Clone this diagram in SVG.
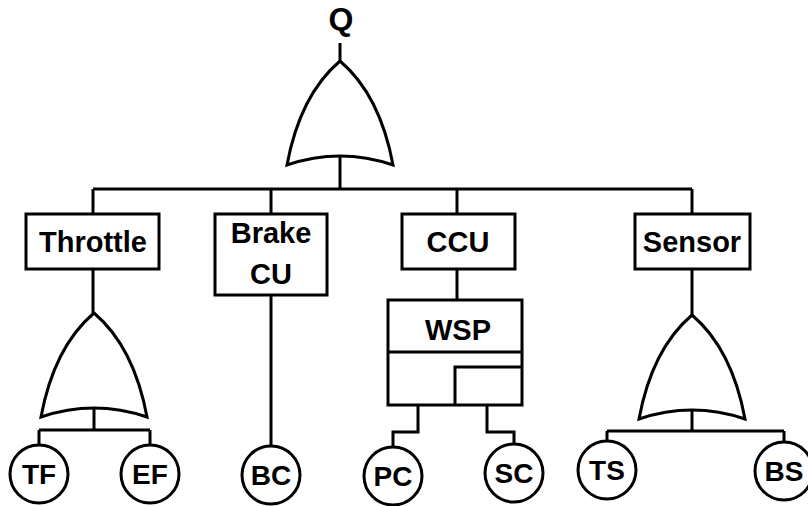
<svg xmlns="http://www.w3.org/2000/svg" xmlns:xlink="http://www.w3.org/1999/xlink" width="808" height="506" viewBox="0 0 808 506">
<style>
.ln{fill:none;stroke:#000;stroke-width:3;stroke-linejoin:miter}
.bx{fill:#fff;stroke:#000;stroke-width:3}
.t{font-family:"Liberation Sans",Arial,sans-serif;font-weight:bold;font-size:29px;fill:#000;text-anchor:middle}
.c{font-family:"Liberation Sans",Arial,sans-serif;font-weight:bold;font-size:28px;fill:#000;text-anchor:middle}
</style>
<defs>
<path id="orgate" d="M0,0 Q-40,34 -53,104 Q0,86 53,104 Q40,34 0,0 Z" fill="#fff" stroke="#000" stroke-width="3" stroke-linejoin="miter"/>
</defs>
<g id="connectors" class="ln">
<path d="M340,43 V61"/>
<path d="M340,156 V189"/>
<path d="M93,189 H692"/>
<path d="M93,189 V214"/>
<path d="M271,189 V214"/>
<path d="M457,189 V214"/>
<path d="M692,189 V214"/>
<path d="M93,269 V313"/>
<path d="M94,409 V430 M39,430 H150 M39,430 V445 M150,430 V445"/>
<path d="M271,295 V446"/>
<path d="M457,269 V300"/>
<path d="M418,405 V432 H393 V447"/>
<path d="M487,405 V432 H514 V444"/>
<path d="M692,269 V315"/>
<path d="M692,411 V431 M607,431 H784 M607,431 V441 M784,431 V442"/>
</g>
<g id="q-label"><text class="t" x="341" y="30" style="font-size:32px">Q</text></g>
<g id="gate-top"><use xlink:href="#orgate" x="340" y="61"/></g>
<g id="throttle"><rect class="bx" x="26" y="214" width="133" height="55"/><text class="t" x="93" y="252">Throttle</text></g>
<g id="brake-cu"><rect class="bx" x="215" y="214" width="112" height="81"/><text class="t" x="271" y="243">Brake</text><text class="t" x="271" y="284">CU</text></g>
<g id="ccu"><rect class="bx" x="402" y="214" width="113" height="55"/><text class="t" x="458" y="252">CCU</text></g>
<g id="sensor"><rect class="bx" x="635" y="214" width="115" height="55"/><text class="t" x="692" y="252">Sensor</text></g>
<g id="gate-throttle"><use xlink:href="#orgate" x="94" y="313"/></g>
<g id="gate-sensor"><use xlink:href="#orgate" x="692" y="315"/></g>
<g id="wsp"><rect class="bx" x="388" y="300" width="134" height="105"/><path class="ln" d="M388,352 H522 M455,405 V367 H522"/><text class="t" x="458" y="340">WSP</text></g>
<g id="tf"><circle class="bx" cx="39" cy="474" r="29"/><text class="c" x="39" y="484">TF</text></g>
<g id="ef"><circle class="bx" cx="150" cy="474" r="29"/><text class="c" x="150" y="484">EF</text></g>
<g id="bc"><circle class="bx" cx="271" cy="475" r="29"/><text class="c" x="271" y="485">BC</text></g>
<g id="pc"><circle class="bx" cx="393" cy="476" r="29"/><text class="c" x="393" y="486">PC</text></g>
<g id="sc"><circle class="bx" cx="514" cy="473" r="29"/><text class="c" x="514" y="483">SC</text></g>
<g id="ts"><circle class="bx" cx="607" cy="470" r="29"/><text class="c" x="607" y="480">TS</text></g>
<g id="bs"><circle class="bx" cx="784" cy="471" r="29"/><text class="c" x="784" y="481">BS</text></g>
</svg>
